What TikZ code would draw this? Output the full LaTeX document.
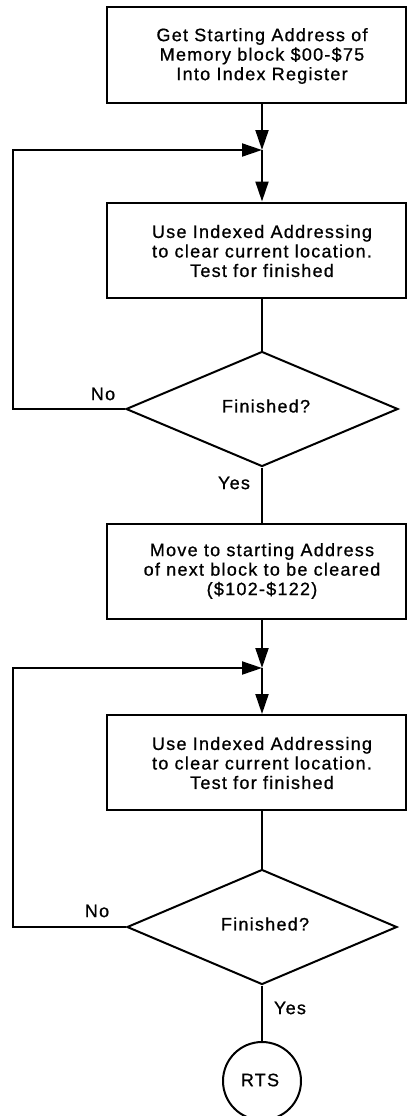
\documentclass[tikz,border=0pt]{standalone}
\usepackage{fontspec}
\newfontfamily\lsf[LetterSpace=7,FakeBold=0.8]{Liberation Sans}
\usetikzlibrary{shapes.geometric,arrows.meta}
\begin{document}
\begin{tikzpicture}[x=1pt,y=-1pt,
  every node/.style={font=\lsf\fontsize{18}{19.5}\selectfont},
  procbox/.style={draw,line width=2pt,minimum width=299pt,minimum height=95pt,inner sep=0pt},
  boxtext/.style={inner sep=0pt,align=center},
  decide/.style={draw,line width=2pt,diamond,minimum width=272pt,minimum height=115pt,inner sep=0pt},
  term/.style={draw,line width=2pt,circle,minimum size=78pt,inner sep=0pt},
  conn/.style={line width=2pt},
  arr/.style={line width=2pt,-{Triangle[length=20pt,width=13pt]}},
  lbl/.style={inner sep=0pt}]
\useasboundingbox (0,0) rectangle (407,1116);
\node[procbox] (b1) at (256.5,55) {};
\node[boxtext] (t1) at (262,56) {Get Starting Address of\\Memory block \$00-\$75\\Into Index Register};
\coordinate (j1) at (262,150);
\coordinate (lc1) at (13,150);
\node[procbox] (b2) at (256.5,250) {};
\node[boxtext] (t2) at (262,251) {Use Indexed Addressing\\to clear current location.\\Test for finished};
\node[decide] (d1) at (262,409) {};
\node[lbl] (t3) at (266,406) {Finished?};
\node[procbox] (b3) at (256.5,571) {};
\node[boxtext] (t4) at (262,571) {Move to starting Address\\of next block to be cleared\\(\$102-\$122)};
\coordinate (j2) at (262,668);
\coordinate (lc2) at (13,668);
\node[procbox] (b4) at (256.5,762.5) {};
\node[boxtext] (t5) at (262,763) {Use Indexed Addressing\\to clear current location.\\Test for finished};
\node[decide,minimum width=270pt] (d2) at (262,927) {};
\node[lbl] (t6) at (265,924) {Finished?};
\node[term] (rts) at (262,1081) {};
\node[lbl] (t7) at (260,1080) {RTS};
\draw[arr] (b1.south -| j1) -- (j1);
\draw[arr] (j1) -- (b2.north -| j1);
\draw[conn] (b2.south -| j1) -- (d1.north);
\draw[arr] (d1.west) -| (lc1) -- (j1);
\draw[conn] (d1.south) -- (b3.north -| d1.south);
\draw[arr] (b3.south -| j2) -- (j2);
\draw[arr] (j2) -- (b4.north -| j2);
\draw[conn] (b4.south -| j2) -- (d2.north);
\draw[arr] (d2.west) -| (lc2) -- (j2);
\draw[conn] (d2.south) -- (rts.north);
\node[lbl] (no1) at (103,394) {No};
\node[lbl] (yes1) at (234,483) {Yes};
\node[lbl] (no2) at (97,911) {No};
\node[lbl] (yes2) at (290,1008) {Yes};
\end{tikzpicture}
\end{document}
